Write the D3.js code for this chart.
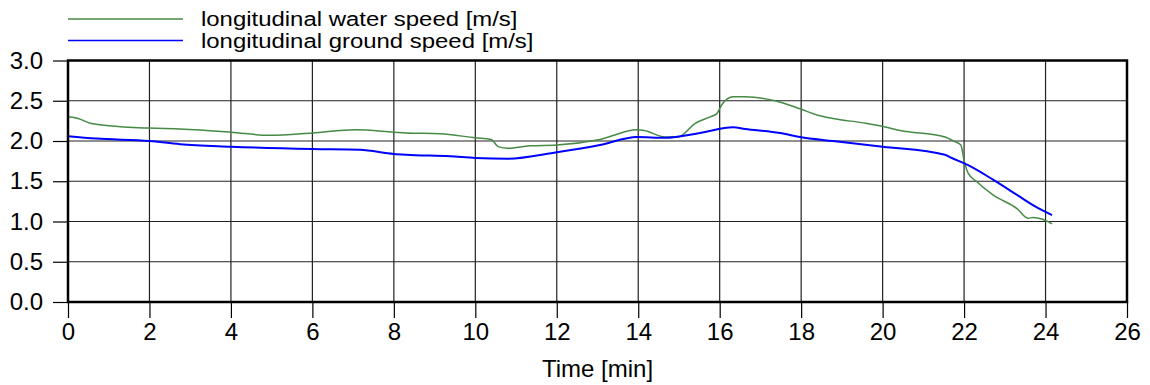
<!DOCTYPE html>
<html>
<head>
<meta charset="utf-8">
<script src="https://cdn.jsdelivr.net/npm/d3@7"></script>
<style>
  body { margin: 0; background: #fff; }
  svg { font-family: "Liberation Sans", Arial, sans-serif; }
</style>
</head>
<body>
<svg id="chart" width="1150" height="385"></svg>
<script>
// time [min] and speeds [m/s]
var waterTime = [0, 0.25, 0.55, 1.0, 2.0, 2.75, 4.0, 4.96, 6.0, 7.05, 8.0, 8.3, 9.13, 10.0, 10.39, 10.56, 10.8, 11.34, 12.0, 13.06, 13.97, 14.15, 14.66, 14.98, 15.4, 15.77, 15.93, 16.05, 16.33, 16.62, 17.36, 17.97, 18.41, 18.78, 19.59, 20.01, 20.43, 21.53, 21.78, 21.92, 22.0, 22.1, 22.32, 22.71, 23.3, 23.57, 23.7, 23.91, 24.16];
var waterSpeed = [2.30, 2.28, 2.22, 2.19, 2.16, 2.15, 2.11, 2.07, 2.10, 2.14, 2.11, 2.10, 2.09, 2.04, 2.02, 1.93, 1.91, 1.94, 1.95, 2.02, 2.14, 2.13, 2.05, 2.05, 2.22, 2.30, 2.34, 2.45, 2.55, 2.55, 2.50, 2.40, 2.32, 2.28, 2.22, 2.18, 2.13, 2.05, 1.99, 1.95, 1.76, 1.60, 1.49, 1.33, 1.16, 1.04, 1.05, 1.03, 0.97];

var groundTime = [0, 0.69, 2.0, 2.75, 4.0, 6.0, 7.17, 8.0, 8.3, 9.38, 10.0, 10.8, 12.0, 13.06, 13.97, 14.66, 15.52, 16.33, 16.62, 17.48, 17.97, 18.78, 20.0, 21.53, 21.65, 22.1, 22.71, 23.3, 23.7, 24.16];
var groundSpeed = [2.06, 2.03, 2.00, 1.96, 1.93, 1.90, 1.89, 1.84, 1.83, 1.81, 1.79, 1.78, 1.86, 1.95, 2.05, 2.04, 2.10, 2.17, 2.15, 2.10, 2.05, 2.00, 1.93, 1.83, 1.80, 1.70, 1.52, 1.33, 1.20, 1.08];

var xTicks = [0, 2, 4, 6, 8, 10, 12, 14, 16, 18, 20, 22, 24, 26];
var yTicks = [0.0, 0.5, 1.0, 1.5, 2.0, 2.5, 3.0];

var seriesNames = ["longitudinal water speed [m/s]", "longitudinal ground speed [m/s]"];
var seriesColors = ["#468a46", "#0000ff"];

var svg = d3.select("#chart");
var margin = { top: 60.5, right: 23, bottom: 83, left: 68 };
var width = 1150 - margin.left - margin.right;
var height = 385 - margin.top - margin.bottom;

var g = svg.append("g")
  .attr("transform", "translate(" + margin.left + "," + margin.top + ")");

var x = d3.scaleLinear().domain([0, 26]).range([0, width]);
var y = d3.scaleLinear().domain([0, 3]).range([height, 0]);

// grid
g.append("g")
  .selectAll("line")
  .data(xTicks)
  .enter()
  .append("line")
  .attr("x1", function (d) { return x(d); })
  .attr("x2", function (d) { return x(d); })
  .attr("y1", 0)
  .attr("y2", height)
  .attr("stroke", "#222")
  .attr("stroke-width", 1.2);

g.append("g")
  .selectAll("line")
  .data(yTicks)
  .enter()
  .append("line")
  .attr("x1", 0)
  .attr("x2", width)
  .attr("y1", function (d) { return y(d); })
  .attr("y2", function (d) { return y(d); })
  .attr("stroke", "#222")
  .attr("stroke-width", 1.2);

// axes
var xAxis = g.append("g")
  .attr("transform", "translate(0," + height + ")")
  .call(d3.axisBottom(x).tickValues(xTicks).tickSize(16).tickSizeOuter(0).tickPadding(5));

var yAxis = g.append("g")
  .call(d3.axisLeft(y).tickValues(yTicks).tickFormat(d3.format(".1f")).tickSize(15).tickSizeOuter(0).tickPadding(10));

[xAxis, yAxis].forEach(function (a) {
  a.select(".domain").remove();
  a.selectAll("line").attr("stroke", "#000").attr("stroke-width", 1.2);
  a.selectAll("text")
    .attr("font-size", "24px")
    .attr("font-family", "Liberation Sans, Arial, sans-serif")
    .attr("fill", "#000");
});

// lines
var line = d3.line()
  .x(function (d) { return x(d[0]); })
  .y(function (d) { return y(d[1]); })
  .curve(d3.curveMonotoneX);

var waterData = waterTime.map(function (t, i) { return [t, waterSpeed[i]]; });
var groundData = groundTime.map(function (t, i) { return [t, groundSpeed[i]]; });

g.append("path")
  .datum(waterData)
  .attr("fill", "none")
  .attr("stroke", seriesColors[0])
  .attr("stroke-width", 1.5)
  .attr("d", line);

g.append("path")
  .datum(groundData)
  .attr("fill", "none")
  .attr("stroke", seriesColors[1])
  .attr("stroke-width", 2)
  .attr("d", line);

// frame
g.append("rect")
  .attr("x", 0)
  .attr("y", 0)
  .attr("width", width)
  .attr("height", height)
  .attr("fill", "none")
  .attr("stroke", "#000")
  .attr("stroke-width", 2.5);

// x title
svg.append("text")
  .attr("x", margin.left + width / 2)
  .attr("y", 377)
  .attr("text-anchor", "middle")
  .attr("font-size", "24px")
  .attr("fill", "#000")
  .text("Time [min]");

// legend
var legend = svg.append("g")
  .selectAll("g")
  .data(seriesNames)
  .enter()
  .append("g")
  .attr("transform", function (d, i) {
    return "translate(0," + (19 + i * 21.5) + ")";
  });

legend.append("line")
  .attr("x1", 68)
  .attr("x2", 183)
  .attr("y1", 0)
  .attr("y2", 0)
  .attr("stroke", function (d, i) { return seriesColors[i]; })
  .attr("stroke-width", 1.5);

// legend text is a bit wide and flat in the original
legend.append("text")
  .attr("transform", "translate(201,7) scale(1.14,1)")
  .attr("font-size", "21px")
  .attr("fill", "#000")
  .text(function (d) { return d; });
</script>
</body>
</html>
